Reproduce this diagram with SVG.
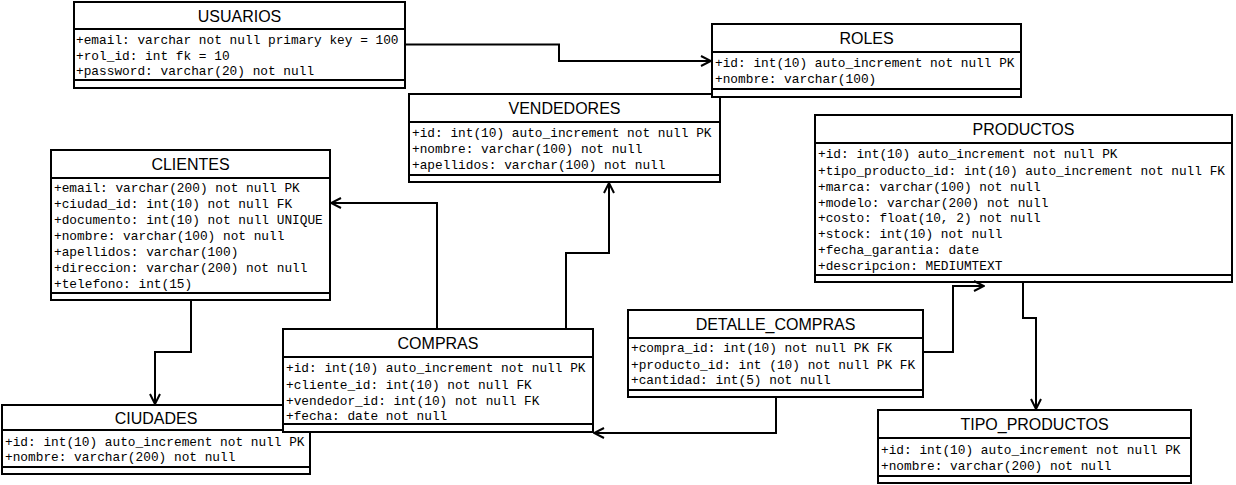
<svg xmlns="http://www.w3.org/2000/svg" width="1236" height="485" viewBox="0 0 1236 485">
<style>
.box{fill:#fff;stroke:#000;stroke-width:2}
.sep{stroke:#000;stroke-width:2}
.t{font-family:"Liberation Sans",Arial,sans-serif;font-size:16px;text-anchor:middle;fill:#000}
.a{font-family:"Liberation Mono","Courier New",monospace;font-size:12.8px;fill:#000}
.c{fill:none;stroke:#000;stroke-width:2}
</style>
<defs>
<marker id="arr" viewBox="0 0 12 12" refX="11" refY="6" markerWidth="12" markerHeight="12" markerUnits="userSpaceOnUse" orient="auto">
<path d="M1,1 L11,6 L1,11" fill="none" stroke="#000" stroke-width="2"/>
</marker>
</defs>
<rect width="1236" height="485" fill="#fff"/>

<g id="usuarios">
<rect class="box" x="74" y="2" width="331" height="86"/>
<line class="sep" x1="74" y1="29" x2="405" y2="29"/>
<line class="sep" x1="74" y1="80" x2="405" y2="80"/>
<text class="t" x="239.5" y="21.5">USUARIOS</text>
<text class="a" x="76" y="44">+email: varchar not null primary key = 100</text>
<text class="a" x="76" y="59.7">+rol_id: int fk = 10</text>
<text class="a" x="76" y="75.4">+password: varchar(20) not null</text>
</g>

<g id="vendedores">
<rect class="box" x="409" y="94" width="311" height="88"/>
<line class="sep" x1="409" y1="122" x2="720" y2="122"/>
<line class="sep" x1="409" y1="175" x2="720" y2="175"/>
<text class="t" x="564.5" y="114">VENDEDORES</text>
<text class="a" x="412" y="137">+id: int(10) auto_increment not null PK</text>
<text class="a" x="412" y="153">+nombre: varchar(100) not null</text>
<text class="a" x="412" y="169">+apellidos: varchar(100) not null</text>
</g>

<g id="roles">
<rect class="box" x="712" y="24" width="309" height="73"/>
<line class="sep" x1="712" y1="52" x2="1021" y2="52"/>
<line class="sep" x1="712" y1="89" x2="1021" y2="89"/>
<text class="t" x="866.5" y="44">ROLES</text>
<text class="a" x="715" y="67">+id: int(10) auto_increment not null PK</text>
<text class="a" x="715" y="83">+nombre: varchar(100)</text>
</g>

<g id="clientes">
<rect class="box" x="51" y="150" width="279" height="150"/>
<line class="sep" x1="51" y1="178" x2="330" y2="178"/>
<line class="sep" x1="51" y1="293" x2="330" y2="293"/>
<text class="t" x="190.5" y="170">CLIENTES</text>
<text class="a" x="54" y="192">+email: varchar(200) not null PK</text>
<text class="a" x="54" y="208">+ciudad_id: int(10) not null FK</text>
<text class="a" x="54" y="224">+documento: int(10) not null UNIQUE</text>
<text class="a" x="54" y="240">+nombre: varchar(100) not null</text>
<text class="a" x="54" y="256">+apellidos: varchar(100)</text>
<text class="a" x="54" y="272">+direccion: varchar(200) not null</text>
<text class="a" x="54" y="287.5">+telefono: int(15)</text>
</g>

<g id="productos">
<rect class="box" x="815" y="115" width="417" height="167"/>
<line class="sep" x1="815" y1="143" x2="1232" y2="143"/>
<line class="sep" x1="815" y1="275" x2="1232" y2="275"/>
<text class="t" x="1023.5" y="135">PRODUCTOS</text>
<text class="a" x="818" y="157.5">+id: int(10) auto_increment not null PK</text>
<text class="a" x="818" y="175">+tipo_producto_id: int(10) auto_increment not null FK</text>
<text class="a" x="818" y="190.7">+marca: varchar(100) not null</text>
<text class="a" x="818" y="206.7">+modelo: varchar(200) not null</text>
<text class="a" x="818" y="222.3">+costo: float(10, 2) not null</text>
<text class="a" x="818" y="238">+stock: int(10) not null</text>
<text class="a" x="818" y="254">+fecha_garantia: date</text>
<text class="a" x="818" y="269.7">+descripcion: MEDIUMTEXT</text>
</g>

<g id="ciudades">
<rect class="box" x="2" y="405" width="308" height="69"/>
<line class="sep" x1="2" y1="430" x2="310" y2="430"/>
<line class="sep" x1="2" y1="467" x2="310" y2="467"/>
<text class="t" x="156" y="423.5">CIUDADES</text>
<text class="a" x="5" y="445.7">+id: int(10) auto_increment not null PK</text>
<text class="a" x="5" y="460.7">+nombre: varchar(200) not null</text>
</g>

<g id="compras">
<rect class="box" x="283" y="329" width="310" height="103"/>
<line class="sep" x1="283" y1="357" x2="593" y2="357"/>
<line class="sep" x1="283" y1="424" x2="593" y2="424"/>
<text class="t" x="438" y="349">COMPRAS</text>
<text class="a" x="286" y="372.3">+id: int(10) auto_increment not null PK</text>
<text class="a" x="286" y="388.5">+cliente_id: int(10) not null FK</text>
<text class="a" x="286" y="404.5">+vendedor_id: int(10) not null FK</text>
<text class="a" x="286" y="420">+fecha: date not null</text>
</g>

<g id="detalle_compras">
<rect class="box" x="628" y="310" width="295" height="87"/>
<line class="sep" x1="628" y1="338" x2="923" y2="338"/>
<line class="sep" x1="628" y1="390" x2="923" y2="390"/>
<text class="t" x="775.5" y="330">DETALLE_COMPRAS</text>
<text class="a" x="631" y="352.3">+compra_id: int(10) not null PK FK</text>
<text class="a" x="631" y="368.7">+producto_id: int (10) not null PK FK</text>
<text class="a" x="631" y="384">+cantidad: int(5) not null</text>
</g>

<g id="tipo_productos">
<rect class="box" x="878" y="410" width="313" height="73"/>
<line class="sep" x1="878" y1="438" x2="1191" y2="438"/>
<line class="sep" x1="878" y1="476" x2="1191" y2="476"/>
<text class="t" x="1034.5" y="430">TIPO_PRODUCTOS</text>
<text class="a" x="881" y="454">+id: int(10) auto_increment not null PK</text>
<text class="a" x="881" y="469.7">+nombre: varchar(200) not null</text>
</g>

<g id="connectors">
<path class="c" d="M405,44.5 H559 V61 H711" marker-end="url(#arr)"/>
<path class="c" d="M437,329 V203 H331" marker-end="url(#arr)"/>
<path class="c" d="M566,329 V253 H609 V183" marker-end="url(#arr)"/>
<path class="c" d="M191,300 V352 H155 V404" marker-end="url(#arr)"/>
<path class="c" d="M776,397 V433 H594" marker-end="url(#arr)"/>
<path class="c" d="M923,352 H953 V286 H984" marker-end="url(#arr)"/>
<path class="c" d="M1023,282 V318 H1036 V409" marker-end="url(#arr)"/>
</g>
</svg>
